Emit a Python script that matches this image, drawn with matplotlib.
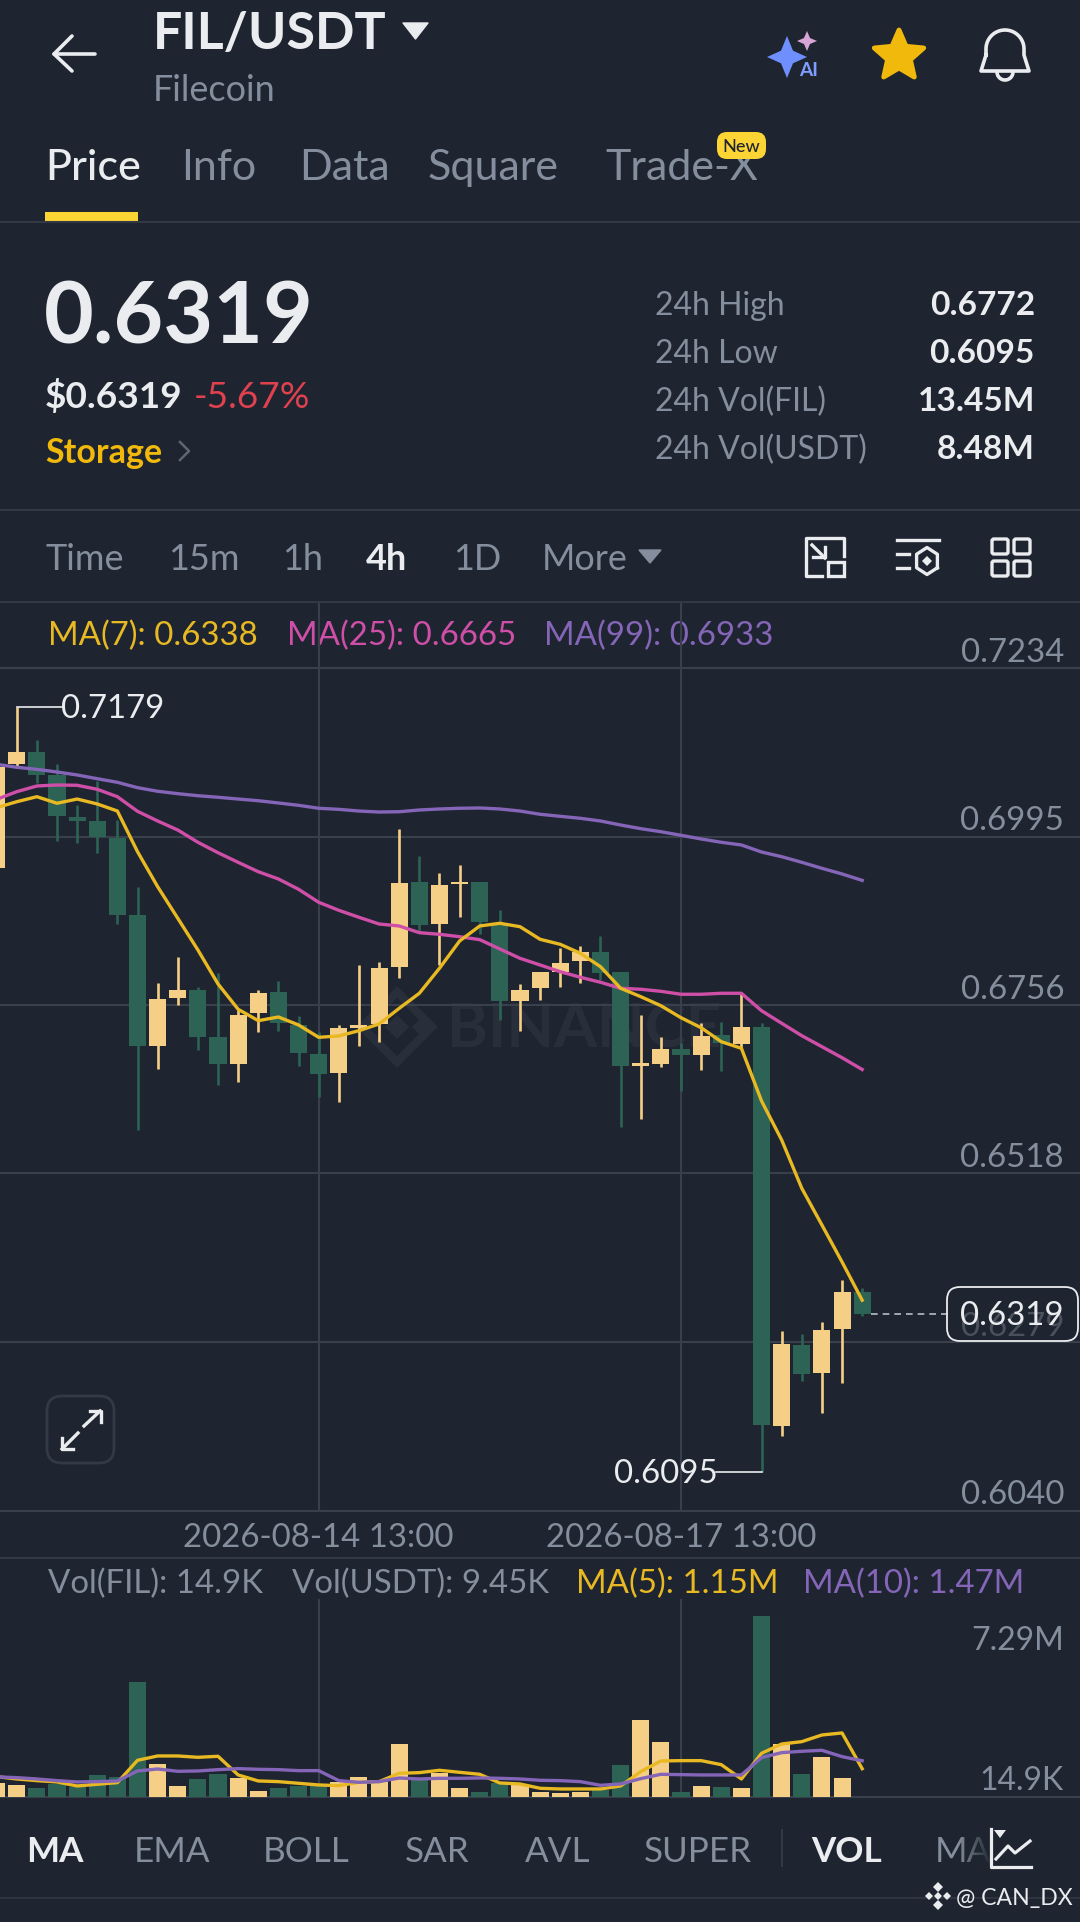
import matplotlib
matplotlib.use("Agg")
import matplotlib.pyplot as plt
import numpy as np
from matplotlib.patches import FancyBboxPatch, Polygon, Rectangle

plt.rcParams['font.family'] = ['Lato', 'DejaVu Sans']

# candles (4h)
opens = [0.69501, 0.70980, 0.71145, 0.70824, 0.70233, 0.70172, 0.69931, 0.68840, 0.66983, 0.67663, 0.67777,
         0.67106, 0.66732, 0.67455, 0.67744, 0.67281, 0.66870, 0.66600, 0.67242, 0.67290, 0.68107, 0.69303,
         0.68712, 0.69275, 0.69303, 0.68698, 0.67617, 0.67805, 0.68028, 0.68188, 0.68319, 0.68028, 0.66704,
         0.66728, 0.66940, 0.66860, 0.67139, 0.67011, 0.67248, 0.61602, 0.62746, 0.62345, 0.62968, 0.63501]
highs = [0.71050, 0.71790, 0.71320, 0.70975, 0.70398, 0.70739, 0.70186, 0.69241, 0.67872, 0.68249, 0.67823,
         0.68013, 0.67493, 0.67777, 0.67904, 0.67412, 0.67186, 0.67276, 0.68131, 0.68178, 0.70054, 0.69680,
         0.69439, 0.69548, 0.69303, 0.68910, 0.67857, 0.68028, 0.68368, 0.68400, 0.68542, 0.68036, 0.67422,
         0.67106, 0.67021, 0.67305, 0.67319, 0.67730, 0.67305, 0.62948, 0.62897, 0.63067, 0.63667, 0.63549]
lows = [0.69450, 0.70951, 0.70710, 0.69888, 0.69856, 0.69722, 0.68712, 0.65793, 0.66653, 0.67564, 0.66926,
        0.66430, 0.66477, 0.67186, 0.67200, 0.66700, 0.66265, 0.66194, 0.66987, 0.67044, 0.67951, 0.68617,
        0.68131, 0.68815, 0.68566, 0.67352, 0.67196, 0.67635, 0.67815, 0.67872, 0.67918, 0.65831, 0.65948,
        0.66681, 0.66350, 0.66643, 0.66633, 0.66950, 0.60950, 0.61460, 0.62235, 0.61778, 0.62203, 0.63157]
closes = [0.70933, 0.71145, 0.70828, 0.70247, 0.70176, 0.69949, 0.68844, 0.66987, 0.67645, 0.67777, 0.67115,
          0.66724, 0.67427, 0.67738, 0.67305, 0.66880, 0.66590, 0.67242, 0.67285, 0.68084, 0.69293, 0.68694,
          0.69260, 0.69311, 0.68745, 0.67625, 0.67777, 0.68028, 0.68164, 0.68319, 0.68022, 0.66704, 0.66738,
          0.66936, 0.66855, 0.67129, 0.67021, 0.67248, 0.61612, 0.62760, 0.62330, 0.62958, 0.63501, 0.63185]

ma7 = [0.70360, 0.70445, 0.70516, 0.70423, 0.70483, 0.70413, 0.70313, 0.69737, 0.69241, 0.68793, 0.68344,
       0.67862, 0.67503, 0.67342, 0.67394, 0.67281, 0.67106, 0.67125, 0.67200, 0.67295, 0.67517, 0.67730,
       0.68084, 0.68471, 0.68684, 0.68722, 0.68674, 0.68495, 0.68424, 0.68297, 0.68107, 0.67801, 0.67682,
       0.67554, 0.67384, 0.67242, 0.67044, 0.66950, 0.66204, 0.65651, 0.64966, 0.64446, 0.63922, 0.63380]
ma25 = [0.70479, 0.70587, 0.70668, 0.70682, 0.70678, 0.70621, 0.70516, 0.70309, 0.70172, 0.70044, 0.69870,
        0.69722, 0.69586, 0.69453, 0.69350, 0.69204, 0.69020, 0.68906, 0.68807, 0.68712, 0.68684, 0.68589,
        0.68566, 0.68532, 0.68490, 0.68358, 0.68226, 0.68131, 0.68036, 0.67957, 0.67886, 0.67801, 0.67787,
        0.67758, 0.67716, 0.67716, 0.67730, 0.67730, 0.67483, 0.67305, 0.67129, 0.66973, 0.66817, 0.66650]
ma99 = [0.70975, 0.70933, 0.70904, 0.70866, 0.70824, 0.70771, 0.70720, 0.70644, 0.70593, 0.70559, 0.70530,
        0.70508, 0.70483, 0.70459, 0.70427, 0.70394, 0.70352, 0.70337, 0.70313, 0.70299, 0.70303, 0.70328,
        0.70342, 0.70352, 0.70356, 0.70342, 0.70313, 0.70267, 0.70238, 0.70210, 0.70172, 0.70115, 0.70063,
        0.70020, 0.69969, 0.69917, 0.69870, 0.69832, 0.69732, 0.69666, 0.69586, 0.69501, 0.69421, 0.69330]

# volume in millions
volumes = [0.563, 0.495, 0.374, 0.523, 0.402, 0.885, 0.816, 4.636, 1.327, 0.470, 0.724, 0.937, 0.764, 0.253, 0.374,
           0.454, 0.454, 0.631, 0.804, 0.631, 2.131, 0.696, 0.993, 0.362, 0.201, 0.563, 0.495, 0.201, 0.189, 0.213,
           0.294, 1.299, 3.096, 2.212, 0.213, 0.454, 0.430, 0.362, 7.290, 2.143, 0.937, 1.637, 0.792, 0.0149]
vol_ma5 = [0.831, 0.737, 0.670, 0.617, 0.456, 0.523, 0.590, 1.488, 1.662, 1.662, 1.608, 1.649, 0.898, 0.657, 0.630,
           0.563, 0.496, 0.469, 0.603, 0.630, 0.965, 0.992, 1.086, 1.005, 0.925, 0.576, 0.536, 0.362, 0.335, 0.335,
           0.335, 0.456, 1.032, 1.461, 1.474, 1.474, 1.313, 0.737, 1.769, 2.144, 2.238, 2.506, 2.587, 1.150]
vol_ma10 = [0.818, 0.791, 0.737, 0.670, 0.617, 0.630, 0.657, 1.059, 1.139, 1.045, 1.059, 1.112, 1.153, 1.126, 1.112,
            1.072, 1.072, 0.670, 0.603, 0.630, 0.777, 0.737, 0.764, 0.764, 0.777, 0.764, 0.737, 0.684, 0.670, 0.630,
            0.483, 0.536, 0.751, 0.925, 0.911, 0.898, 0.898, 0.898, 1.595, 1.796, 1.850, 1.890, 1.635, 1.470]

price_ticks = [0.7234, 0.6995, 0.6756, 0.6518, 0.6279, 0.6040]
price_labels = ["0.7234", "0.6995", "0.6756", "0.6518", "0.6279", "0.6040"]
date_idx = [16, 34]
date_labels = ["2026-08-14 13:00", "2026-08-17 13:00"]
last_price = 0.6319
tabs = ["Price", "Info", "Data", "Square", "Trade-X"]
tab_x = [45, 181, 299, 428, 605]
periods = ["Time", "15m", "1h", "4h", "1D", "More"]
period_x = [45, 168, 282, 366, 453, 542]
stat_names = ["24h High", "24h Low", "24h Vol(FIL)", "24h Vol(USDT)"]
stat_values = ["0.6772", "0.6095", "13.45M", "8.48M"]
indicators = ["MA", "EMA", "BOLL", "SAR", "AVL", "SUPER", "VOL"]
indicator_x = [26, 134, 263, 405, 525, 644, 811]

BG = '#1e2530'
GRID = '#3a404b'
LINE = '#323945'
GREY = '#848e9c'
WHITE = '#eaecef'
UP = '#f6cf87'
DOWN = '#2c6354'
YEL = '#e8b923'
PINK = '#cf4fa8'
PURP = '#8465b8'

W, H = 1080, 1922
fig = plt.figure(figsize=(W / 100, H / 100), dpi=100, facecolor=BG)


def px_axes(top, bottom, z):
    return fig.add_axes([0, 1 - bottom / H, 1, (bottom - top) / H], zorder=z)


# whole-screen layer in pixel coordinates for the app chrome
ui = fig.add_axes([0, 0, 1, 1], zorder=0)
ui.set_xlim(0, W)
ui.set_ylim(H, 0)
ui.axis('off')
top = fig.add_axes([0, 0, 1, 1], zorder=5)
top.set_xlim(0, W)
top.set_ylim(H, 0)
top.axis('off')


def label(x, y, s, px, color=GREY, weight='normal', ha='left', ax=ui, **kw):
    return ax.text(x, y, s, fontsize=px * 0.72, color=color, fontweight=weight, ha=ha, va='baseline', **kw)


# header
ui.plot([54, 95], [54, 54], color=WHITE, lw=2.6, solid_capstyle='round')
ui.plot([72, 54, 72], [36, 54, 71], color=WHITE, lw=2.6, solid_capstyle='round', solid_joinstyle='round')
label(153, 49, "FIL/USDT", 52, WHITE, 'bold')
ui.add_patch(Polygon([[403, 23], [428, 23], [415.5, 39]], closed=True, fc=WHITE, ec=WHITE, lw=1, joinstyle='round'))
label(153, 101, "Filecoin", 36)


def sparkle(cx, cy, rx, ry, color):
    t = np.array([[0, -ry], [rx * .3, -ry * .3], [rx, 0], [rx * .3, ry * .3],
                  [0, ry], [-rx * .3, ry * .3], [-rx, 0], [-rx * .3, -ry * .3]])
    ui.add_patch(Polygon(t + [cx, cy], closed=True, fc=color, ec='none'))


sparkle(787, 57, 20, 21, '#6f8fff')
sparkle(807, 41, 10, 10, '#d8a6d6')
label(799, 76, "AI", 19, '#7f9cff', 'bold')

# star
ang = np.deg2rad(np.arange(0, 360, 36) - 90)
rad = np.array([26, 12] * 5)
ui.add_patch(Polygon(np.c_[899 + rad * np.cos(ang), 56 + rad * np.sin(ang)], closed=True, fc='#f0b90b',
                     ec='#f0b90b', lw=3.5, joinstyle='round'))

# bell
th = np.linspace(np.pi, 0, 40)
bx = np.r_[986, 986 + 0 * th + (19 * np.cos(th) + 19), 1024, 1029, 981, 986]
by = np.r_[55, 49 + 19 * -np.sin(th), 55, 71, 71, 55]
ui.plot(bx, by, color=WHITE, lw=2.6, solid_joinstyle='round')
th2 = np.linspace(np.pi, 2 * np.pi, 20)
ui.plot(1005 + 8 * np.cos(th2), 72 - 8 * np.sin(th2), color=WHITE, lw=2.6)

# tabs
for name, x in zip(tabs, tab_x):
    label(x, 180, name, 43, WHITE if name == "Price" else GREY, 'medium' if name == "Price" else 'normal')
ui.add_patch(Rectangle((45, 212), 93, 10, fc='#fcd535', ec='none'))
ui.add_patch(FancyBboxPatch((722, 137), 39, 17, boxstyle="round,pad=5,rounding_size=10", fc='#fcd535', ec='none', zorder=3))
label(741.5, 152, "New", 18, '#1e2530', 'medium', ha='center', zorder=4)
ui.axhline(222, color=LINE, lw=1.5)

# price block
label(44, 343, "0.6319", 86, WHITE, 'bold')
label(45, 408, "$0.6319", 37, WHITE, 'bold')
label(194, 408, "-5.67%", 37, '#e0414f')
label(45, 463, "Storage", 34, '#f0b90b', 'bold')
ui.plot([180, 189, 180], [442, 451, 460], color='#5e6673', lw=1.8)
for name, val, y in zip(stat_names, stat_values, [315, 363, 411, 459]):
    label(655, y, name, 32)
    label(1035, y, val, 33.5, WHITE, 'bold', ha='right')
ui.axhline(510, color=LINE, lw=1.5)

# period row
for name, x in zip(periods, period_x):
    label(x, 570, name, 36, WHITE if name == "4h" else GREY, 'bold' if name == "4h" else 'normal')
ui.add_patch(Polygon([[639, 550], [661, 550], [650, 563]], closed=True, fc=GREY, ec=GREY, lw=1))

# tool icons
ui.plot([822, 806, 806, 844, 844], [576, 576, 538, 538, 556], color=WHITE, lw=2.4, solid_joinstyle='round')
ui.add_patch(Rectangle((828, 562), 16, 14, fc='none', ec=WHITE, lw=2.4))
ui.plot([812, 825], [545, 558], color=WHITE, lw=2.4)
ui.plot([813, 825, 825], [557, 557, 547], color=WHITE, lw=2.4)
ui.plot([897, 939], [540, 540], color=WHITE, lw=2.4)
ui.plot([897, 909], [554, 554], color=WHITE, lw=2.4)
ui.plot([897, 909], [568, 568], color=WHITE, lw=2.4)
hx = np.deg2rad(np.arange(30, 391, 60))
ui.plot(927 + 12 * np.cos(hx), 561 + 13.5 * np.sin(hx), color=WHITE, lw=2.4)
ui.add_patch(Polygon([[927, 556], [932, 561], [927, 566], [922, 561]], closed=True, fc=WHITE, ec='none'))
for gx in (992, 1014):
    for gy in (539, 561):
        ui.add_patch(FancyBboxPatch((gx, gy), 16, 15, boxstyle="round,pad=0,rounding_size=2", fc='none', ec=WHITE, lw=2.4))
ui.axhline(602, color=LINE, lw=1.5)

# legends
label(48, 645, "MA(7): 0.6338", 33, YEL)
label(287, 645, "MA(25): 0.6665", 33, PINK)
label(544, 645, "MA(99): 0.6933", 33, PURP)
label(48, 1593, "Vol(FIL): 14.9K", 33)
label(292, 1593, "Vol(USDT): 9.45K", 33)
label(576, 1593, "MA(5): 1.15M", 33, YEL)
label(803, 1593, "MA(10): 1.47M", 33, PURP)

# faint watermark
label(447, 1047, "BINANCE", 62, '#282f3a', 'bold')
for cx, cy, r in [(397, 1027, 35), (397, 1027, 12), (421, 1027, 9)]:
    d = np.array([[0, -r], [r, 0], [0, r], [-r, 0]])
    ui.add_patch(Polygon(d + [cx, cy], closed=True, fc='#282f3a' if r < 20 else 'none', ec='#282f3a', lw=6 if r > 20 else 0))

# main chart
x = np.arange(len(opens))
xlim = (3.4 / 20.13, (W + 3.4) / 20.13)
ax = px_axes(668, 1510.5, 1)
ax.patch.set_alpha(0)
ax.set_xlim(*xlim)
ax.set_ylim(0.6040, 0.7234)
ax.axis('off')

for p, lab in zip(price_ticks, price_labels):
    ax.axhline(p, color=GRID, lw=1.5, clip_on=False, zorder=1)
    ax.annotate(lab, xy=(1064 / W, p), xycoords=('axes fraction', 'data'), xytext=(0, 4.5), textcoords='offset points',
                ha='right', va='baseline', fontsize=33 * 0.72, color=GREY if lab != "0.6279" else '#4a515d',
                zorder=2)
for i, lab in zip(date_idx, date_labels):
    ax.axvline(i, ymin=0, ymax=(1510.5 - 604) / (1510.5 - 668), color=GRID, lw=1.5, clip_on=False, zorder=1)
    ax.annotate(lab, xy=(i, 0), xycoords=('data', 'axes fraction'), xytext=(0, -26.5), textcoords='offset points',
                ha='center', va='baseline', fontsize=33 * 0.72, color=GREY)

cols = [UP if c >= o else DOWN for o, c in zip(opens, closes)]
ax.vlines(x, lows, highs, colors=cols, lw=1.9, zorder=3)
ax.bar(x, np.abs(np.array(closes) - np.array(opens)), bottom=np.minimum(opens, closes), width=0.85, color=cols, zorder=3)
ax.plot(x, ma99, color=PURP, lw=2.4, zorder=4)
ax.plot(x, ma25, color=PINK, lw=2.4, zorder=4)
ax.plot(x, ma7, color=YEL, lw=2.4, zorder=4)

# high / low markers
ax.plot([1, 3.25], [max(highs), max(highs)], color=WHITE, lw=1.2, zorder=5)
ax.annotate("0.7179", xy=(3.25, max(highs)), xytext=(-1, -8), textcoords='offset points', ha='left', va='baseline',
            fontsize=33 * 0.72, color=WHITE)
ax.plot([38, 35.75], [min(lows), min(lows)], color=WHITE, lw=1.2, zorder=5)
ax.annotate("0.6095", xy=(35.75, min(lows)), xytext=(1, -8), textcoords='offset points', ha='right', va='baseline',
            fontsize=33 * 0.72, color=WHITE)
ax.plot([43.45, 47.3], [last_price, last_price], color='#b7bdc6', lw=1.2, ls=(0, (4, 3)), zorder=5)

# last price tag
top.add_patch(FancyBboxPatch((947, 1287), 131, 54, boxstyle="round,pad=0,rounding_size=13", fc='none', ec=WHITE, lw=1.3))
label(1064, 1325, "0.6319", 33, WHITE, ha='right', ax=top)

# volume pane
ui.axhline(1558, color=LINE, lw=1.5)
vax = px_axes(1616, 1797.3, 1)
vax.patch.set_alpha(0)
vax.set_xlim(*xlim)
vax.set_ylim(0, 7.29)
vax.axis('off')
for i in date_idx:
    vax.axvline(i, ymin=0, ymax=(1797.3 - 1600) / (1797.3 - 1616), color=GRID, lw=1.5, clip_on=False, zorder=1)
vax.axhline(0, color=GRID, lw=1.5, clip_on=False, zorder=1)
vax.bar(x, volumes, width=0.85, color=cols, zorder=3)
vax.plot(x, vol_ma5, color=YEL, lw=2.4, zorder=4)
vax.plot(x, vol_ma10, color=PURP, lw=2.4, zorder=4)
label(1064, 1650, "7.29M", 32, ax=top, ha='right')
label(1064, 1790, "14.9K", 32, ax=top, ha='right')

# indicator row
for name, xp in zip(indicators, indicator_x):
    bold = name in ("MA", "VOL")
    label(xp, 1862, name, 35, WHITE if bold else GREY, 'bold' if bold else 'normal')
label(935, 1862, "MA", 35, GREY)
grad = np.zeros((1, 40, 4))
grad[..., :3] = matplotlib.colors.to_rgb(BG)
grad[..., 3] = np.linspace(0, 1, 40)
ui.imshow(grad, extent=(958, 992, 1868, 1830), aspect='auto', zorder=3)
ui.set_xlim(0, W)
ui.set_ylim(H, 0)
ui.plot([782, 782], [1830, 1866], color=LINE, lw=1.5)
ui.plot([991, 991, 1031], [1829, 1867, 1867], color=WHITE, lw=2.3, zorder=4)
ui.plot([996, 1008, 1015, 1030], [1859, 1846, 1853, 1841], color=WHITE, lw=2.3, zorder=4)
ui.add_patch(Polygon([[994, 1830], [1006, 1830], [1000, 1838]], closed=True, fc=WHITE, ec='none', zorder=4))
ui.axhline(1898, color=LINE, lw=1.2)

# expand button
ui.add_patch(FancyBboxPatch((47, 1396), 67, 67, boxstyle="round,pad=0,rounding_size=15", fc='none', ec='#333a46', lw=2))
ui.plot([84, 100], [1426, 1411], color=WHITE, lw=2.4)
ui.plot([90, 100.7, 100.7], [1411, 1411, 1422], color=WHITE, lw=2.4)
ui.plot([78, 62], [1433, 1449], color=WHITE, lw=2.4)
ui.plot([62, 62, 73], [1438, 1449, 1449], color=WHITE, lw=2.4)

# credit bottom right
for cx, cy, r in [(938, 1887, 5), (938, 1905, 5), (929, 1896, 4), (947, 1896, 4), (938, 1896, 4)]:
    d = np.array([[0, -r], [r, 0], [0, r], [-r, 0]])
    top.add_patch(Polygon(d + [cx, cy], closed=True, fc=WHITE, ec='none'))
label(956, 1905, "@ CAN_DX", 23, WHITE, ax=top)

fig.savefig("out.png", dpi=100, facecolor=BG)
